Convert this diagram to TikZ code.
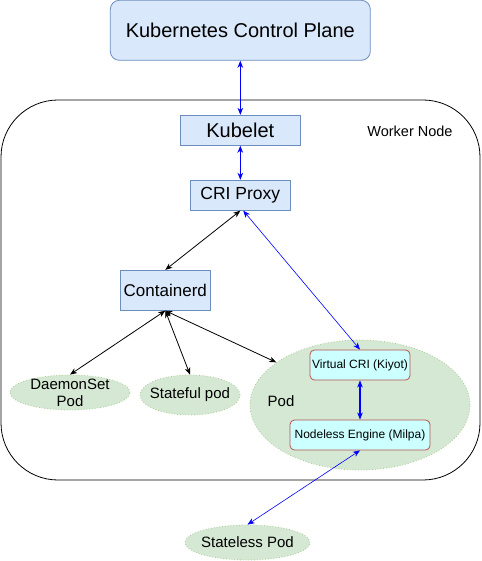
\documentclass[tikz,border=0pt]{standalone}
\usepackage{fontspec}
\setmainfont{Liberation Sans}
\usetikzlibrary{arrows.meta,shapes.geometric}
\definecolor{bluefill}{HTML}{DAE8FC}
\definecolor{blueline}{HTML}{6C8EBF}
\definecolor{greenfill}{HTML}{D5E8D4}
\definecolor{greenline}{HTML}{A9CC94}
\definecolor{cyanfill}{HTML}{CCFFFF}
\definecolor{redline}{HTML}{B85450}
\definecolor{linkblue}{HTML}{0000FF}

\begin{document}
\begin{tikzpicture}[x=1pt,y=-1pt,
    box/.style={draw=blueline,fill=bluefill,line width=0.8pt,inner sep=0pt},
    pod/.style={ellipse,draw=greenline,fill=greenfill,dotted,line width=0.8pt,inner sep=0pt},
    podtext/.style={label={[font=\fontsize{15}{17}\selectfont,align=center]center:#1}},
    engine/.style={draw=redline,fill=cyanfill,rounded corners=4.5pt,line width=0.8pt,inner sep=0pt,
      minimum height=30pt,font=\fontsize{12}{14}\selectfont},
    tip/.style={>={Stealth[length=7pt,width=5.5pt,inset=2pt]}},
    blk/.style={tip,<->,draw=black,line width=0.8pt},
    blu/.style={tip,<->,draw=linkblue,line width=1.2pt},
    thinblu/.style={tip,<->,draw=linkblue,line width=0.6pt}]

  \useasboundingbox (0,0) rectangle (481,561);

  % worker node frame
  \node[draw=black,line width=0.8pt,rounded corners=57pt,minimum width=479pt,minimum height=380pt,inner sep=0pt] (worker) at (240.5,290) {};
  \node[font=\fontsize{14.5}{17}\selectfont] (wlabel) at (410,131) {Worker Node};

  % control plane and node agents
  \node[box,rounded corners=9pt,minimum width=260pt,minimum height=60pt,font=\fontsize{20}{24}\selectfont] (cp) at (240.3,30.3) {Kubernetes Control Plane};
  \node[box,minimum width=120pt,minimum height=30pt,font=\fontsize{20}{24}\selectfont] (kubelet) at (240.3,130.3) {Kubelet};
  \node[box,minimum width=100pt,minimum height=30pt,font=\fontsize{17.5}{21}\selectfont] (cri) at (240.3,195.3) {CRI Proxy};
  \node[box,minimum width=90pt,minimum height=40pt,font=\fontsize{17}{20}\selectfont] (cd) at (165.3,290.3) {Containerd};

  % pods
  \node[pod,minimum width=120pt,minimum height=35pt,podtext={DaemonSet\\Pod}] (ds) at (70,392.5) {};
  \node[pod,minimum width=100pt,minimum height=40pt,podtext={Stateful pod}] (sf) at (190,395) {};
  \node[pod,minimum width=220pt,minimum height=130pt] (vp) at (360,405) {};
  \node[font=\fontsize{15}{17}\selectfont] (vplabel) at (281,401) {Pod};
  \node[pod,minimum width=125pt,minimum height=35pt,podtext={Stateless Pod}] (sl) at (247.5,542.5) {};

  % virtual kubelet parts
  \node[engine,minimum width=100pt] (kiyot) at (360,365) {Virtual CRI (Kiyot)};
  \node[engine,minimum width=140pt] (milpa) at (360,435) {Nodeless Engine (Milpa)};

  % links
  \draw[blu] (cp.south) -- (kubelet.north);
  \draw[blu] (kubelet.south) -- (cri.north);
  \draw[blk] (cri.south) -- (cd.north);
  \draw[thinblu] ([xshift=3pt]cri.south) -- (kiyot.north);
  \draw[blk] (cd.south) -- (ds.north);
  \draw[blk] (cd.south) -- (sf.north);
  \draw[blk] (cd.south) -- (vp.153);
  \draw[blu] (kiyot.south) -- (milpa.north);
  \draw[thinblu] (milpa.south) -- (sl.north);
\end{tikzpicture}
\end{document}
